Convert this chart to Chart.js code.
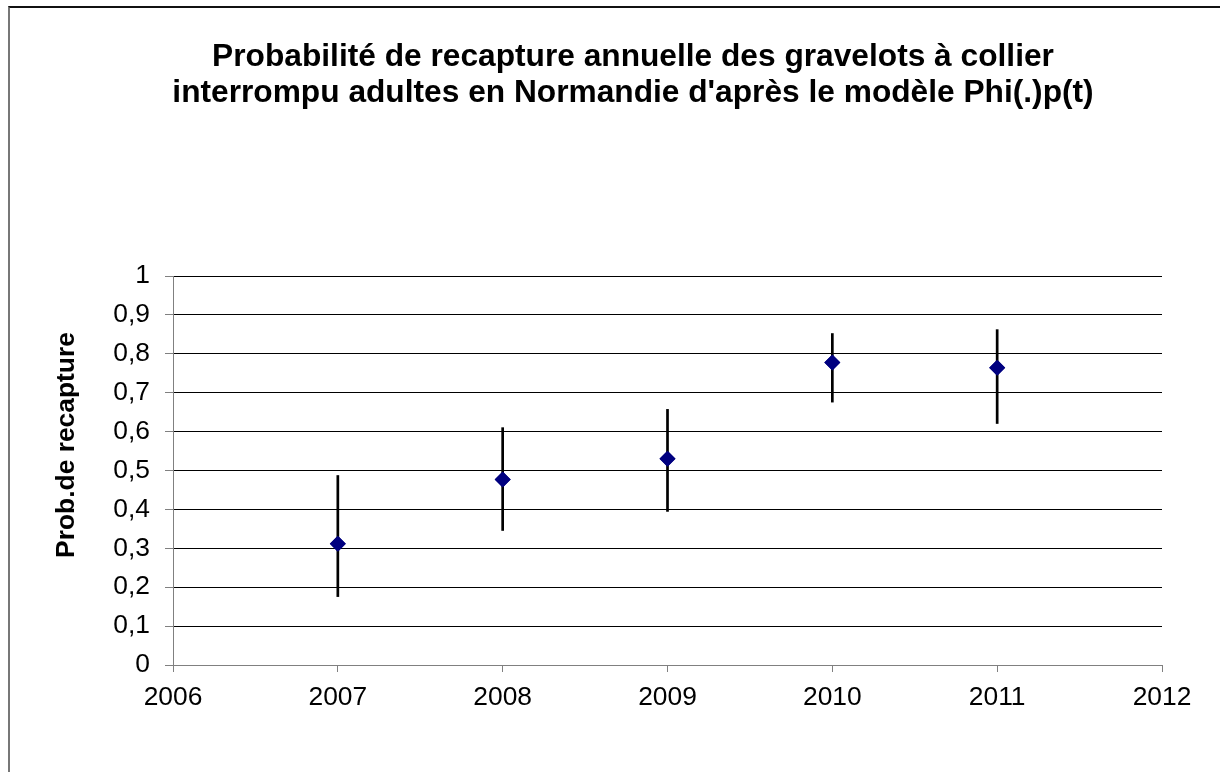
<!DOCTYPE html>
<html>
<head>
<meta charset="utf-8">
<script src="https://cdn.jsdelivr.net/npm/chart.js@4"></script>
<style>
  html, body { margin: 0; padding: 0; background: #fff; }
  #wrap { position: relative; width: 1220px; height: 772px; overflow: hidden; }
  #frame {
    position: absolute; left: 8px; top: 6px; width: 1400px; height: 1000px;
    border-top: 2px solid #111; border-left: 2px solid #777;
  }
  canvas { position: absolute; left: 0; top: 0; }
</style>
</head>
<body>
<div id="wrap">
  <div id="frame"></div>
  <canvas id="chart" width="1220" height="772"></canvas>
</div>
<script>
'use strict';

// ─── Data ─────────────────────────────────────────────────────────────────────

const years     = [2007, 2008, 2009, 2010, 2011];
const estimates = [0.312, 0.477, 0.530, 0.778, 0.764];
const lower     = [0.175, 0.345, 0.394, 0.675, 0.620];
const upper     = [0.488, 0.611, 0.658, 0.853, 0.863];

const xTicks = [2006, 2007, 2008, 2009, 2010, 2011, 2012];
const yTicks = [0, 0.1, 0.2, 0.3, 0.4, 0.5, 0.6, 0.7, 0.8, 0.9, 1];

const titleLines = [
  'Probabilité de recapture annuelle des gravelots à collier',
  "interrompu adultes en Normandie d'après le modèle Phi(.)p(t)",
];
const yTitle = 'Prob.de recapture';

// ─── Helpers ──────────────────────────────────────────────────────────────────

const FONT = '"Liberation Sans", Arial, sans-serif';

function fmtTick(v) {
  return String(Math.round(v * 10) / 10).replace('.', ',');
}

// vertical error bars, no caps
const errorBars = {
  id: 'errorBars',
  afterDatasetsDraw(chart) {
    const { ctx, scales: { x, y } } = chart;
    ctx.save();
    ctx.strokeStyle = '#000';
    ctx.lineWidth = 2.7;
    years.forEach((yr, i) => {
      const px = x.getPixelForValue(yr);
      ctx.beginPath();
      ctx.moveTo(px, y.getPixelForValue(upper[i]));
      ctx.lineTo(px, y.getPixelForValue(lower[i]));
      ctx.stroke();
    });
    ctx.restore();
    // markers sit on top of the bars
    chart.getDatasetMeta(0).controller.draw();
  },
};

// y axis title: Excel puts it a bit above the plot's middle
const yAxisTitle = {
  id: 'yAxisTitle',
  afterDraw(chart) {
    const { ctx } = chart;
    ctx.save();
    ctx.translate(67, 445);
    ctx.rotate(-Math.PI / 2);
    ctx.font = `bold 26.4px ${FONT}`;
    ctx.fillStyle = '#000';
    ctx.textAlign = 'center';
    ctx.textBaseline = 'middle';
    ctx.fillText(yTitle, 0, 0);
    ctx.restore();
  },
};

// ─── Chart ────────────────────────────────────────────────────────────────────

new Chart(document.getElementById('chart'), {
  type: 'scatter',
  data: {
    datasets: [{
      label: 'p',
      data: years.map((yr, i) => ({ x: yr, y: estimates[i] })),
      pointStyle: 'rectRot',
      pointRadius: 8,
      pointHoverRadius: 8,
      backgroundColor: '#000080',
      borderColor: '#000080',
      borderWidth: 0,
    }],
  },
  options: {
    responsive: false,
    animation: false,
    events: [],
    // the chart object is wider than the picture, so the title sits right of centre
    layout: { padding: { top: 0, left: 104, right: 58, bottom: 0 } },
    plugins: {
      legend: { display: false },
      tooltip: { enabled: false },
      title: {
        display: true,
        text: titleLines,
        color: '#000',
        font: { family: FONT, size: 31.7, weight: 'bold', lineHeight: 1.136 },
        padding: { top: 39, bottom: 165 },
      },
    },
    scales: {
      x: {
        type: 'linear',
        min: 2006,
        max: 2012,
        afterBuildTicks: (s) => { s.ticks = xTicks.map((v) => ({ value: v })); },
        afterFit: (s) => { s.height = 107; },
        ticks: {
          color: '#000',
          font: { family: FONT, size: 26.4 },
          padding: 10,
          callback: (v) => String(v),
        },
        grid: {
          drawOnChartArea: false,
          tickLength: 7,
          tickColor: '#808080',
          tickWidth: 1,
        },
        border: { color: '#808080', width: 1 },
      },
      y: {
        min: 0,
        max: 1,
        afterBuildTicks: (s) => { s.ticks = yTicks.map((v) => ({ value: v })); },
        afterFit: (s) => { s.width = 69; },
        ticks: {
          color: '#000',
          font: { family: FONT, size: 26.4 },
          padding: 15,
          callback: fmtTick,
        },
        grid: {
          color: '#000',
          lineWidth: 1,
          tickLength: 8,
          tickColor: '#808080',
        },
        border: { color: '#808080', width: 1 },
      },
    },
  },
  plugins: [errorBars, yAxisTitle],
});
</script>
</body>
</html>
